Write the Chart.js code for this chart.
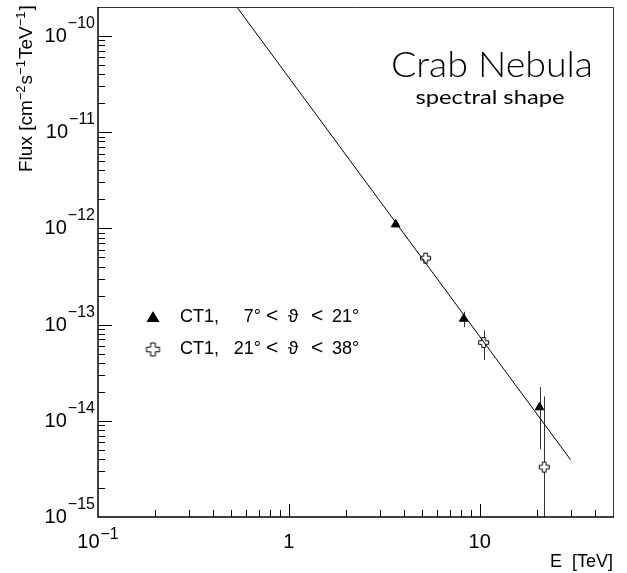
<!DOCTYPE html>
<html>
<head>
<meta charset="utf-8">
<script src="https://cdn.jsdelivr.net/npm/chart.js@4.4.0/dist/chart.umd.min.js"></script>
<style>
  html, body { margin: 0; padding: 0; background: #fff; }
  canvas { display: block; }
</style>
</head>
<body>
<canvas id="crabChart" width="627" height="573"></canvas>
<script>
// axis ranges and tick labels
const xRange = [0.1, 50];
const yRange = [1e-15, 2e-10];
const xDecades = [0.1, 1, 10];
const xLabelBase = ['10', '1', '10'];
const xLabelExp = ['\u22121', '', ''];
const yDecades = [1e-10, 1e-11, 1e-12, 1e-13, 1e-14, 1e-15];
const yLabelExp = ['\u221210', '\u221211', '\u221212', '\u221213', '\u221214', '\u221215'];

// CT1, 7 deg < theta < 21 deg (filled triangles)
const lowZenE = [3.63, 8.25, 20.6];
const lowZenFlux = [1.10e-12, 1.15e-13, 1.38e-14];
const lowZenErr = [0.05e-12, 0.21e-13, 0.87e-14];

// CT1, 21 deg < theta < 38 deg (open crosses)
const highZenE = [5.21, 10.5, 21.8];
const highZenFlux = [4.9e-13, 6.5e-14, 3.3e-15];
const highZenErr = [0.3e-13, 2.2e-14, 1.46e-14];

// power law fit line
const fitE = [0.5, 30];
const fitFlux = [2.39e-10, 3.93e-15];

const FONT = "'Liberation Sans', Arial, sans-serif";

// open cross marker
function makeCross(size, a, L) {
    const cv = document.createElement('canvas');
    cv.width = size;
    cv.height = size;
    const c = cv.getContext('2d');
    const m = size / 2;
    c.beginPath();
    c.moveTo(m - a, m - L); c.lineTo(m + a, m - L); c.lineTo(m + a, m - a);
    c.lineTo(m + L, m - a); c.lineTo(m + L, m + a); c.lineTo(m + a, m + a);
    c.lineTo(m + a, m + L); c.lineTo(m - a, m + L); c.lineTo(m - a, m + a);
    c.lineTo(m - L, m + a); c.lineTo(m - L, m - a); c.lineTo(m - a, m - a);
    c.closePath();
    c.fillStyle = '#fff';
    c.fill();
    c.strokeStyle = '#000';
    c.lineWidth = 1;
    c.stroke();
    return cv;
}
const crossImg = makeCross(13, 1.8, 5);
const crossLegend = makeCross(17, 2.3, 6.5);

const toPoints = (xs, ys) => xs.map((x, i) => ({ x: x, y: ys[i] }));

function supText(ctx, base, exp, x, y, align, baseFont, supFont, rise) {
    ctx.font = baseFont;
    const wb = ctx.measureText(base).width;
    ctx.font = supFont;
    const we = exp ? ctx.measureText(exp).width + 1 : 0;
    let x0 = x;
    if (align === 'right') x0 = x - wb - we;
    else if (align === 'center') x0 = x - (wb + we) / 2;
    ctx.textAlign = 'left';
    ctx.font = baseFont;
    ctx.fillText(base, x0, y);
    if (exp) {
        ctx.font = supFont;
        ctx.fillText(exp, x0 + wb + 1, y - rise);
    }
}

function fitWidth(ctx, text, cx, y, font, width) {
    ctx.font = font;
    const w = ctx.measureText(text).width;
    ctx.save();
    ctx.translate(cx, y);
    ctx.scale(width / w, 1);
    ctx.textAlign = 'center';
    ctx.fillText(text, 0, 0);
    ctx.restore();
}

const errorBars = {
    id: 'errorBars',
    beforeDatasetsDraw(chart) {
        const { ctx, chartArea: area, scales: { x, y } } = chart;
        ctx.save();
        ctx.beginPath();
        ctx.rect(area.left, area.top, area.right - area.left, area.bottom - area.top);
        ctx.clip();
        ctx.strokeStyle = '#333';
        ctx.lineWidth = 1;
        const draw = (es, fs, errs) => {
            es.forEach((e, i) => {
                const px = Math.round(x.getPixelForValue(e)) + 0.5;
                const lo = fs[i] - errs[i];
                const yTop = y.getPixelForValue(fs[i] + errs[i]);
                const yBot = lo > 0 ? y.getPixelForValue(lo) : area.bottom;
                ctx.beginPath();
                ctx.moveTo(px, yTop);
                ctx.lineTo(px, yBot);
                ctx.stroke();
            });
        };
        draw(lowZenE, lowZenFlux, lowZenErr);
        draw(highZenE, highZenFlux, highZenErr);
        ctx.restore();
    }
};

const frameAndLabels = {
    id: 'frameAndLabels',
    afterDraw(chart) {
        const { ctx, chartArea: area, scales: { x, y } } = chart;
        ctx.save();
        ctx.fillStyle = '#000';

        // frame
        ctx.lineWidth = 1;
        ctx.strokeStyle = '#333';
        ctx.beginPath();
        ctx.moveTo(area.left, area.top + 0.5);
        ctx.lineTo(area.right + 0.5, area.top + 0.5);
        ctx.lineTo(area.right + 0.5, area.bottom);
        ctx.stroke();
        ctx.strokeStyle = '#000';
        ctx.lineWidth = 1.5;
        ctx.beginPath();
        ctx.moveTo(area.left, area.top);
        ctx.lineTo(area.left, area.bottom);
        ctx.lineTo(area.right + 1, area.bottom);
        ctx.stroke();

        // x ticks
        ctx.lineWidth = 1;
        xDecades.forEach(d => {
            for (let m = 1; m <= 9; m++) {
                const v = m * d;
                if (v <= xRange[0] || v >= xRange[1]) continue;
                const px = Math.round(x.getPixelForValue(v)) + 0.5;
                const len = m === 1 ? 13 : 7;
                ctx.beginPath();
                ctx.moveTo(px, area.bottom);
                ctx.lineTo(px, area.bottom - len);
                ctx.stroke();
            }
        });
        // y ticks
        yDecades.forEach(d => {
            for (let m = 1; m <= 9; m++) {
                const v = m * d;
                if (v <= yRange[0] || v >= yRange[1]) continue;
                const py = Math.round(y.getPixelForValue(v)) + 0.5;
                const len = m === 1 ? 14 : 7;
                ctx.beginPath();
                ctx.moveTo(area.left, py);
                ctx.lineTo(area.left + len, py);
                ctx.stroke();
            }
        });

        // x tick labels
        ctx.textBaseline = 'alphabetic';
        xDecades.forEach((d, i) => {
            const px = x.getPixelForValue(d);
            supText(ctx, xLabelBase[i], xLabelExp[i], px, 548, 'center',
                '20px ' + FONT, '16px ' + FONT, 9);
        });
        // y tick labels
        yDecades.forEach((d, i) => {
            const py = y.getPixelForValue(d);
            supText(ctx, '10', yLabelExp[i], 95, py + 6, 'right',
                '20px ' + FONT, '16px ' + FONT, 14);
        });

        // axis titles
        ctx.font = '18px ' + FONT;
        ctx.textAlign = 'right';
        ctx.fillText('E  [TeV]', area.right, 567);

        ctx.save();
        ctx.translate(32, 172);
        ctx.rotate(-Math.PI / 2);
        let tx = 0;
        const parts = [['Flux [cm', 0], ['\u22122', 1], ['s', 0], ['\u22121', 1], ['TeV', 0], ['\u22121', 1], [']', 0]];
        ctx.textAlign = 'left';
        parts.forEach(([t, sup]) => {
            ctx.font = (sup ? '13px ' : '19px ') + FONT;
            ctx.fillText(t, tx, sup ? -7 : 0);
            tx += ctx.measureText(t).width + (sup ? 1 : 0);
        });
        ctx.restore();

        // title
        ctx.fillStyle = '#000';
        fitWidth(ctx, 'Crab Nebula', 492, 77, '300 36px Lato, ' + FONT, 202);
        fitWidth(ctx, 'spectral shape', 490, 104, '20px Lato, ' + FONT, 149);

        // legend
        ctx.beginPath();
        ctx.moveTo(153, 311);
        ctx.lineTo(159.5, 322);
        ctx.lineTo(146.5, 322);
        ctx.closePath();
        ctx.fill();
        ctx.drawImage(crossLegend, 153 - 8.5, 349.5 - 8.5);

        const legendFont = '18px ' + FONT;
        const rows = [[322, '7\u00b0', '21\u00b0'], [354, '21\u00b0', '38\u00b0']];
        rows.forEach(([by, lo, hi]) => {
            ctx.font = legendFont;
            ctx.textAlign = 'left';
            ctx.fillText('CT1,', 180, by);
            ctx.textAlign = 'right';
            ctx.fillText(lo, 261, by);
            ctx.textAlign = 'left';
            ctx.font = '21px ' + FONT;
            ctx.fillText('<', 266, by);
            ctx.fillText('<', 311, by);
            ctx.font = '19px ' + FONT;
            ctx.fillText('\u03d1', 288, by);
            ctx.font = legendFont;
            ctx.fillText(hi, 332, by);
        });
        ctx.restore();
    }
};

const ctx = document.getElementById('crabChart').getContext('2d');
new Chart(ctx, {
    type: 'scatter',
    data: {
        datasets: [
            {
                label: 'fit',
                data: toPoints(fitE, fitFlux),
                showLine: true,
                borderColor: '#000',
                borderWidth: 1,
                pointRadius: 0,
            },
            {
                label: 'CT1, 7\u00b0 < \u03d1 < 21\u00b0',
                data: toPoints(lowZenE, lowZenFlux),
                pointStyle: 'triangle',
                pointRadius: 5,
                backgroundColor: '#000',
                borderColor: '#000',
                borderWidth: 1,
            },
            {
                label: 'CT1, 21\u00b0 < \u03d1 < 38\u00b0',
                data: toPoints(highZenE, highZenFlux),
                pointStyle: crossImg,
                pointRadius: 6,
            },
        ],
    },
    options: {
        responsive: false,
        animation: false,
        devicePixelRatio: 1,
        layout: { padding: { left: 98, right: 14, top: 2, bottom: 56 } },
        plugins: {
            legend: { display: false },
            tooltip: { enabled: false },
        },
        scales: {
            x: { type: 'logarithmic', min: xRange[0], max: xRange[1], display: false },
            y: { type: 'logarithmic', min: yRange[0], max: yRange[1], display: false },
        },
    },
    plugins: [errorBars, frameAndLabels],
});
</script>
</body>
</html>
